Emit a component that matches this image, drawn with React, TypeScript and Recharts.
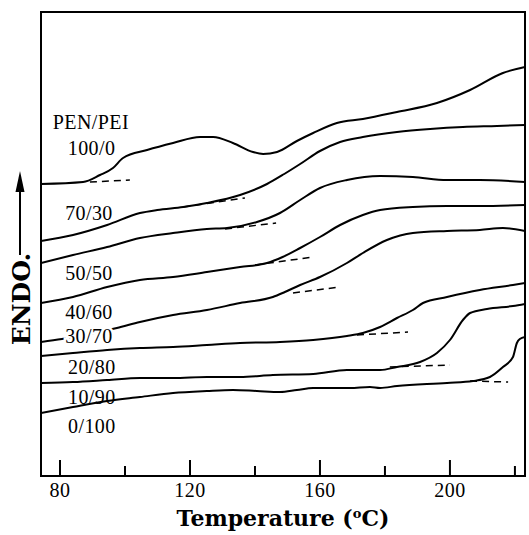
import { LineChart, Line, XAxis, YAxis, ReferenceArea, ReferenceDot, Label } from 'recharts';

// x range of the frame, °C
const T_MIN = 74.15;
const T_MAX = 223.1;
const ENDO_MAX = 464;

// DSC traces: [temperature °C, endo signal (arb. units, stacked)]
const pen100: [number, number][] = [
  [74.15, 292], [87.1, 294], [92.3, 301], [96.3, 308], [99.4, 318], [106.8, 326], [114.8, 333],
  [123.1, 339], [127.1, 339], [133.2, 333], [139.4, 324], [142.5, 322], [146.8, 324], [152.9, 335],
  [157.9, 343], [165.2, 353], [173.2, 357], [183.7, 364], [196.0, 373], [206.2, 386], [216.3, 403],
  [223.1, 409],
];
const pen70: [number, number][] = [
  [74.15, 235], [84.0, 241], [94.5, 251], [104.6, 263], [109.9, 266], [117.9, 269], [125.2, 273],
  [135.4, 281], [143.7, 292], [149.0, 302], [153.9, 312], [160.0, 325], [166.2, 334], [173.2, 339],
  [183.7, 344], [193.9, 347], [204.0, 349], [214.5, 350], [223.1, 351],
];
const pen50: [number, number][] = [
  [74.15, 213], [84.0, 221], [94.5, 229], [104.6, 238], [114.8, 243], [125.2, 247], [131.4, 248],
  [140.6, 254], [147.7, 263], [153.9, 276], [160.0, 288], [168.3, 296], [178.5, 300], [188.6, 299],
  [199.1, 296], [209.2, 296], [223.1, 294],
];
const pen40: [number, number][] = [
  [74.15, 173], [84.0, 179], [94.5, 189], [104.6, 196], [114.8, 199], [125.2, 204], [135.4, 209],
  [143.7, 213], [148.5, 219], [153.9, 228], [160.0, 239], [166.2, 251], [173.2, 261], [178.5, 266],
  [188.6, 269], [199.1, 270], [209.2, 270], [223.1, 271],
];
const pen30: [number, number][] = [
  [74.15, 134], [80.6, 137], [97.5, 148], [104.6, 154], [114.8, 161], [125.2, 166], [135.4, 173],
  [145.5, 179], [149.2, 184], [153.9, 191], [160.0, 199], [168.3, 213], [173.2, 223], [180.6, 236],
  [188.6, 243], [199.1, 245], [209.2, 246], [216.3, 248], [223.1, 245],
];
const pen20: [number, number][] = [
  [74.15, 120], [84.0, 123], [94.5, 126], [104.6, 128], [114.8, 129], [125.2, 131], [135.4, 133],
  [147.7, 134], [157.9, 136], [168.3, 140], [173.2, 143], [178.5, 149], [183.7, 158], [188.6, 166],
  [191.7, 173], [199.1, 179], [209.2, 186], [219.4, 191], [223.1, 193],
];
const pen10: [number, number][] = [
  [74.15, 93], [84.0, 94], [94.5, 96], [104.6, 98], [114.8, 98], [125.2, 99], [135.4, 99],
  [145.5, 101], [157.9, 102], [168.3, 106], [178.5, 106], [183.7, 109], [190.8, 114], [196.0, 123],
  [200.0, 136], [204.0, 156], [206.2, 163], [211.4, 167], [219.4, 170], [223.1, 172],
];
const pen0: [number, number][] = [
  [74.15, 63], [84.0, 69], [94.5, 75], [104.6, 79], [114.8, 83], [125.2, 85], [133.2, 86],
  [140.6, 85], [147.7, 84], [152.9, 86], [157.9, 88], [169.2, 88], [175.4, 89], [178.5, 88],
  [183.7, 90], [199.1, 93], [207.1, 95], [212.3, 99], [216.3, 109], [219.4, 119], [220.6, 133],
  [221.5, 137], [223.1, 139],
];

// extrapolated baselines (dashed) used for the Tg onset
const onset100: [number, number][] = [[89.2, 294], [101.5, 296]];
const onset70: [number, number][] = [[117.9, 269], [136.9, 278]];
const onset50: [number, number][] = [[130.8, 247], [146.5, 253]];
const onset40: [number, number][] = [[140.0, 211], [157.9, 219]];
const onset30: [number, number][] = [[151.7, 183], [166.2, 189]];
const onset20: [number, number][] = [[171.4, 141], [187.1, 144]];
const onset10: [number, number][] = [[181.5, 109], [200.0, 111]];
const onset0: [number, number][] = [[206.2, 95], [217.9, 94]];

const traces = [pen100, pen70, pen50, pen40, pen30, pen20, pen10, pen0];
const onsets = [onset100, onset70, onset50, onset40, onset30, onset20, onset10, onset0];

const labelTexts = ['PEN/PEI', '100/0', '70/30', '50/50', '40/60', '30/70', '20/80', '10/90', '0/100'];
const labelT = [89.5, 89.7, 88.9, 88.9, 88.9, 88.9, 89.8, 89.8, 89.8];
const labelV = [354, 328, 263, 203, 164, 140, 109, 79, 50];

const tickValues = [80, 100, 120, 140, 160, 180, 200, 220];
const majorTicks = [80, 120, 160, 200];

const BOLD_FONT = '"DejaVu Serif", "Liberation Serif", serif';
const TEXT_FONT = '"Liberation Serif", "DejaVu Serif", serif';

const toRows = (pts: [number, number][]) => pts.map(([t, v]) => ({ t, v }));

function TempTick({ x, y, payload }: any) {
  const major = majorTicks.includes(payload.value);
  return (
    <g>
      <line x1={x} x2={x} y1={y} y2={y - (major ? 16 : 10)} stroke="#000" strokeWidth={2} />
      {major && (
        <text x={x} y={y + 21} textAnchor="middle" fontFamily={TEXT_FONT} fontSize={20} letterSpacing={0.5} fill="#000">
          {payload.value}
        </text>
      )}
    </g>
  );
}

function TempTitle({ viewBox }: any) {
  const cx = viewBox.x + viewBox.width / 2;
  const cy = viewBox.y + 50;
  return (
    <text x={cx} y={cy} textAnchor="middle" fontFamily={BOLD_FONT} fontWeight="bold" fontSize={22} fill="#000">
      Temperature (
      <tspan dy={-8} fontSize={13}>o</tspan>
      <tspan dy={8}>C)</tspan>
    </text>
  );
}

function EndoTitle({ viewBox }: any) {
  const ax = viewBox.x + 20;
  const bx = viewBox.x + 30;
  const cy = 299;
  return (
    <g>
      <line x1={ax} x2={ax} y1={255} y2={186} stroke="#000" strokeWidth={2} />
      <polygon points={`${ax},171 ${ax - 4.5},192 ${ax + 4.5},192`} fill="#000" />
      <text
        x={bx}
        y={cy}
        transform={`rotate(-90, ${bx}, ${cy})`}
        textAnchor="middle"
        fontFamily={BOLD_FONT}
        fontWeight="bold"
        fontSize={25}
        fill="#000"
      >
        ENDO.
      </text>
    </g>
  );
}

export default function App() {
  return (
    <div style={{ position: 'absolute', left: 0, top: 0, width: 529, height: 535, background: '#fff' }}>
      <LineChart width={529} height={535} margin={{ top: 12, right: 4, bottom: 0, left: 0 }}>
        <XAxis
          type="number"
          dataKey="t"
          domain={[T_MIN, T_MAX]}
          allowDataOverflow
          ticks={tickValues}
          tick={<TempTick />}
          tickLine={false}
          tickSize={0}
          tickMargin={0}
          axisLine={false}
          height={59}
          interval={0}
        >
          <Label content={<TempTitle />} />
        </XAxis>
        <YAxis
          type="number"
          dataKey="v"
          domain={[0, ENDO_MAX]}
          allowDataOverflow
          width={41}
          tick={false}
          tickLine={false}
          axisLine={false}
        >
          <Label content={<EndoTitle />} />
        </YAxis>
        <ReferenceArea
          x1={T_MIN}
          x2={T_MAX}
          y1={0}
          y2={ENDO_MAX}
          fill="none"
          fillOpacity={0}
          stroke="#000"
          strokeWidth={2}
          ifOverflow="visible"
        />
        {traces.map((pts, i) => (
          <Line
            key={`trace-${i}`}
            data={toRows(pts)}
            dataKey="v"
            type="monotone"
            stroke="#000"
            strokeWidth={2}
            dot={false}
            isAnimationActive={false}
          />
        ))}
        {onsets.map((pts, i) => (
          <Line
            key={`onset-${i}`}
            data={toRows(pts)}
            dataKey="v"
            type="linear"
            stroke="#000"
            strokeWidth={1.5}
            strokeDasharray="7 5"
            dot={false}
            isAnimationActive={false}
          />
        ))}
        {labelTexts.map((txt, i) => (
          <ReferenceDot
            key={`lbl-${i}`}
            x={labelT[i]}
            y={labelV[i]}
            r={0}
            isFront
            shape={(p: any) => (
              <text
                x={p.cx}
                y={p.cy}
                dy={7}
                textAnchor="middle"
                fontFamily={TEXT_FONT}
                fontSize={20}
                letterSpacing={0.4}
                fill="#000"
                stroke="#fff"
                strokeWidth={txt === '30/70' ? 5 : 0}
                paintOrder="stroke"
              >
                {txt}
              </text>
            )}
          />
        ))}
      </LineChart>
    </div>
  );
}
